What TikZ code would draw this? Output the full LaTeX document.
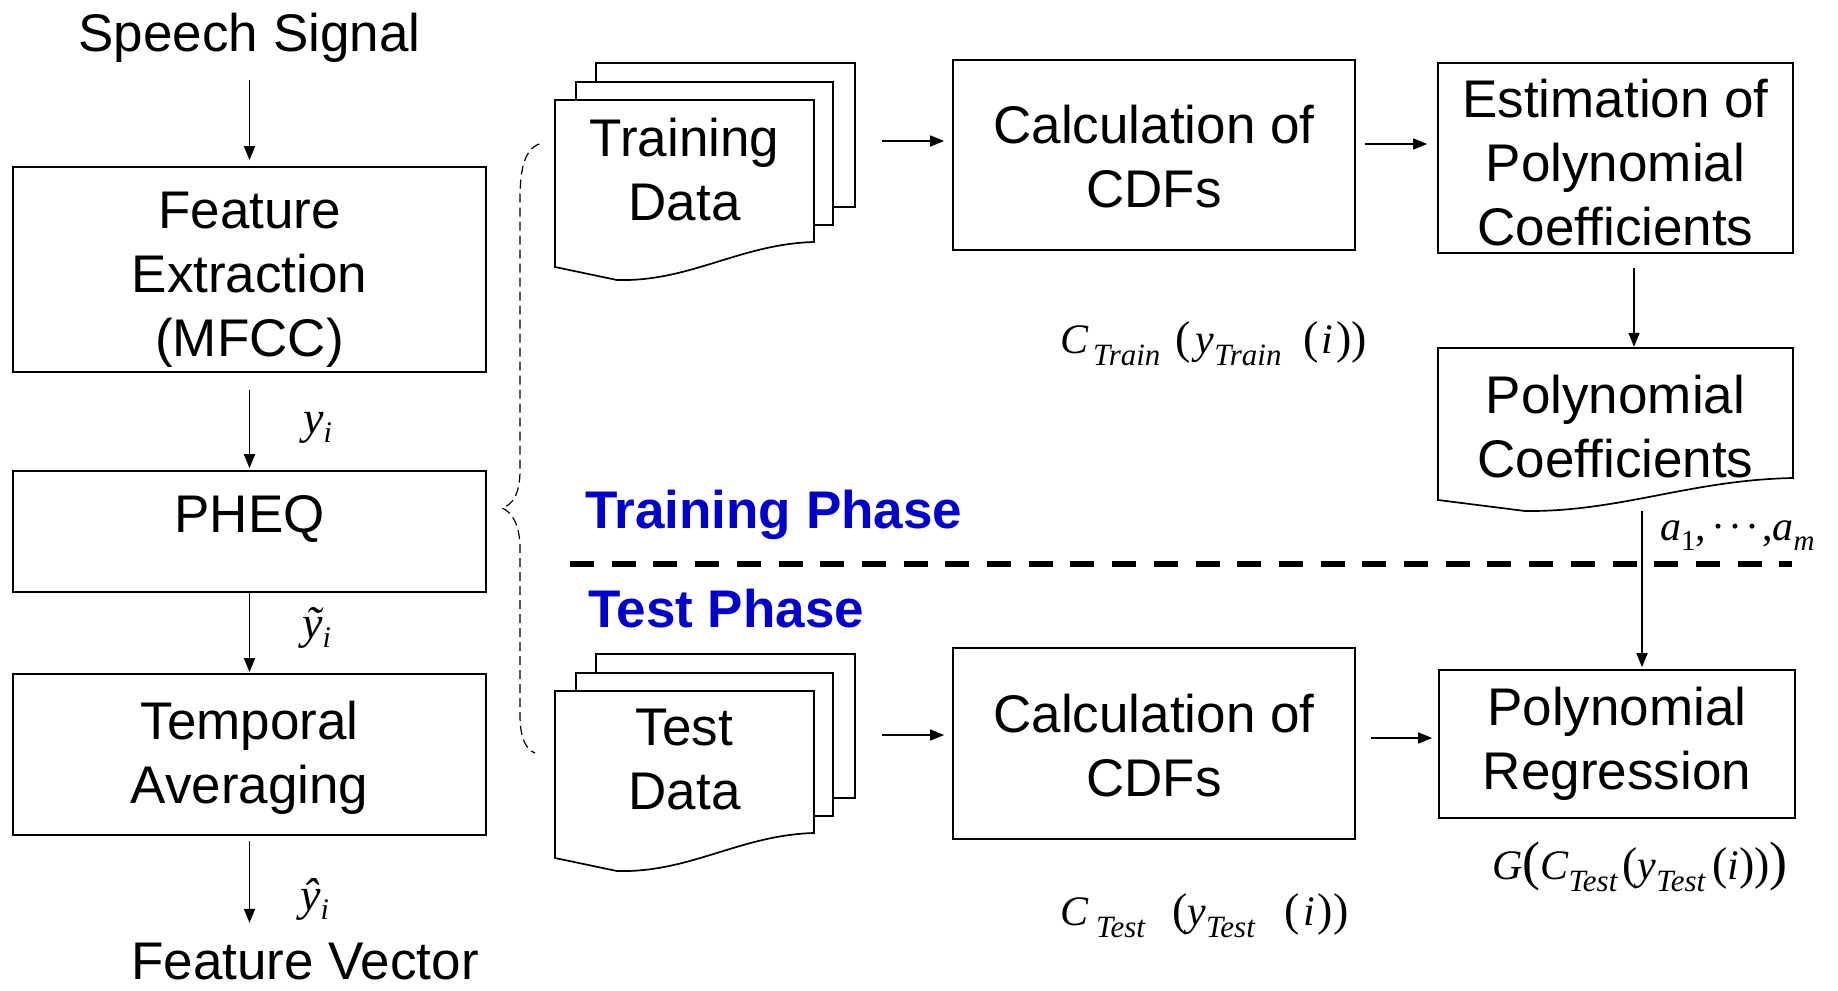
\documentclass[tikz,border=0pt]{standalone}
\usepackage{fontspec}
\setmainfont{Liberation Sans}
\newfontfamily\tms{Liberation Serif}
\usetikzlibrary{arrows.meta}
\definecolor{phaseblue}{RGB}{0,0,204}
\newcommand{\xmv}[1]{{\fontsize{42}{42}\selectfont\tms\itshape #1}}
\newcommand{\xsb}[1]{\raisebox{-12pt}{\fontsize{31}{31}\selectfont\tms\itshape #1}}
\newcommand{\xlp}{{\fontsize{46}{46}\selectfont\tms (}}
\newcommand{\xrp}{{\fontsize{46}{46}\selectfont\tms )}}
\newcommand{\xLp}{{\fontsize{54}{54}\selectfont\tms (}}
\newcommand{\xRp}{{\fontsize{54}{54}\selectfont\tms )}}
\newcommand{\xyv}[1]{{\fontsize{46}{46}\selectfont\tms\itshape #1}\raisebox{-9pt}{\fontsize{30}{30}\selectfont\tms\itshape i}}
\begin{document}
\begin{tikzpicture}[x=1pt,y=-1pt,
  txt/.style={font=\fontsize{53}{64}\selectfont, align=center, inner sep=0pt},
  box/.style={draw, line width=1.7pt, inner sep=0pt},
  page/.style={draw, line width=1.7pt, fill=white, line join=miter},
  arr/.style={line width=1.5pt, -{Triangle[length=14pt,width=11pt]}},
  phase/.style={font=\fontsize{53}{64}\selectfont\bfseries, text=phaseblue, anchor=base west, inner sep=0pt},
  mlbl/.style={anchor=base west, inner sep=0pt},
  ghost/.style={inner sep=0pt, draw=none}]

\useasboundingbox (0,0) rectangle (1838,990);

% ---------- left column ----------
\node[txt, anchor=base] (speech) at (249.5,52) {Speech Signal};
\node[box, minimum width=473pt, minimum height=205pt] (feat) at (249.5,269.5) {};
\node[txt, anchor=north] (featt) at (249.5,192) {Feature\\Extraction\\(MFCC)};
\node[box, minimum width=473pt, minimum height=121pt] (pheq) at (249.5,531.5) {};
\node[txt, anchor=base] (pheqt) at (249.5,532) {PHEQ};
\node[box, minimum width=473pt, minimum height=161pt] (temp) at (249.5,754.5) {};
\node[txt, anchor=north] (tempt) at (249.5,701) {Temporal\\Averaging};
\node[txt, anchor=base] (fv) at (305,979) {Feature Vector};

\draw[arr, shorten <=17pt, shorten >=6pt] (speech.south) -- (feat.north);
\draw[arr, shorten <=17pt, shorten >=2pt] (feat.south) -- (pheq.north);
\draw[arr, shorten >=1pt] (pheq.south) -- (temp.north);
\draw[arr] (temp.south) ++(0,5) -- ++(0,82);

\node[mlbl] (yi) at (303,433) {\xyv{y}};
\node[mlbl] (yti) at (302,638) {\xyv{ỹ}};
\node[mlbl] (yhi) at (300,910) {\xyv{ŷ}};

% dashed brace
\draw[line width=1.2pt, dash pattern=on 9pt off 5pt]
  (539,144) .. controls (524,150) and (520,170) .. (520,200) -- (520,470)
  .. controls (520,495) and (512,505) .. (502,508)
  .. controls (512,512) and (520,525) .. (520,548) -- (520,715)
  .. controls (520,740) and (527,750) .. (535,753);

% ---------- training phase ----------
\draw[page] (596,63) rectangle (855,207);
\draw[page] (576,82) rectangle (833,225);
\draw[page] (555,100) -- (814,100) -- (814,242) .. controls (740,244) and (690,282) .. (617,280) -- (555,267) -- cycle;
\node[ghost, minimum width=300pt, minimum height=217pt] (trstack) at (705,171.5) {};
\node[txt, anchor=north] (trd) at (684.5,118) {Training\\Data};

\node[box, minimum width=402pt, minimum height=190pt] (calc1) at (1154,155) {};
\node[txt, anchor=north] (calc1t) at (1154,105) {Calculation of\\CDFs};
\node[box, minimum width=355pt, minimum height=190pt] (est) at (1615.5,158) {};
\node[txt, anchor=north] (estt) at (1615.5,79) {Estimation of\\Polynomial\\Coefficients};

\draw[page] (1438,348) -- (1793,348) -- (1793,478) .. controls (1690,480) and (1620,512) .. (1525,511) -- (1438,500) -- cycle;
\node[ghost, minimum width=355pt, minimum height=163pt] (pcoef) at (1615.5,429.5) {};
\node[txt, anchor=north] (pcoeft) at (1615.5,375) {Polynomial\\Coefficients};

\draw[arr, shorten <=27pt, shorten >=8pt] (trstack.east |- 0,141) -- (calc1.west |- 0,141);
\draw[arr, shorten <=9pt, shorten >=10pt] (calc1.east |- 0,144) -- (est.west |- 0,144);
\draw[arr, shorten <=14pt, shorten >=1pt] (1634,0 |- est.south) -- (1634,0 |- pcoef.north);

\node[mlbl] (ctrain) at (1060,353) {\xmv{C}\hspace{5pt}\xsb{Train}\hspace{15pt}\xlp\hspace{5pt}\xmv{y}\xsb{Train}\hspace{22pt}\xlp\hspace{3pt}\xmv{i}\hspace{3pt}\xrp\xrp};

\node[mlbl] (alab) at (1660,540) {{\fontsize{42}{42}\selectfont\tms\itshape a}\raisebox{-10pt}{\fontsize{29}{29}\selectfont\tms 1}{\fontsize{42}{42}\selectfont\tms ,\hspace{5pt}·\hspace{3pt}·\hspace{3pt}·\hspace{3pt},}{\fontsize{42}{42}\selectfont\tms\itshape a}\raisebox{-10pt}{\fontsize{29}{29}\selectfont\tms\itshape m}};

% phase separator
\draw[line width=6.5pt, dash pattern=on 24pt off 17.7pt] (570,564) -- (1792,564);
\node[phase] (trph) at (585,528) {Training Phase};
\node[phase] (teph) at (588,627) {Test Phase};

% ---------- test phase ----------
\draw[page] (596,654) rectangle (855,798);
\draw[page] (576,673) rectangle (833,816);
\draw[page] (555,691) -- (814,691) -- (814,833) .. controls (740,835) and (690,873) .. (617,871) -- (555,858) -- cycle;
\node[ghost, minimum width=300pt, minimum height=217pt] (testack) at (705,762.5) {};
\node[txt, anchor=north] (ted) at (684.5,709) {Test\\Data};

\node[box, minimum width=402pt, minimum height=191pt] (calc2) at (1154,743.5) {};
\node[txt, anchor=north] (calc2t) at (1154,694) {Calculation of\\CDFs};
\node[box, minimum width=356pt, minimum height=148pt] (preg) at (1617,744) {};
\node[txt, anchor=north] (pregt) at (1617,687) {Polynomial\\Regression};

\draw[arr, shorten <=27pt, shorten >=8pt] (testack.east |- 0,735) -- (calc2.west |- 0,735);
\draw[arr, shorten <=15pt, shorten >=6pt] (calc2.east |- 0,738) -- (preg.west |- 0,738);
\draw[arr, shorten >=2pt] (1642,0 |- pcoef.south) -- (1642,0 |- preg.north);

\node[mlbl] (ctest) at (1060,925) {\xmv{C}\hspace{8pt}\xsb{Test}\hspace{27pt}\xlp\xmv{y}\xsb{Test}\hspace{30pt}\xlp\hspace{3pt}\xmv{i}\hspace{3pt}\xrp\xrp};
\node[mlbl] (glab) at (1492,879) {\xmv{G}\xLp\xmv{C}\xsb{Test}\hspace{5pt}\xlp\xmv{y}\xsb{Test}\hspace{7pt}\xlp\xmv{i}\xrp\xrp\xRp};
\end{tikzpicture}
\end{document}
